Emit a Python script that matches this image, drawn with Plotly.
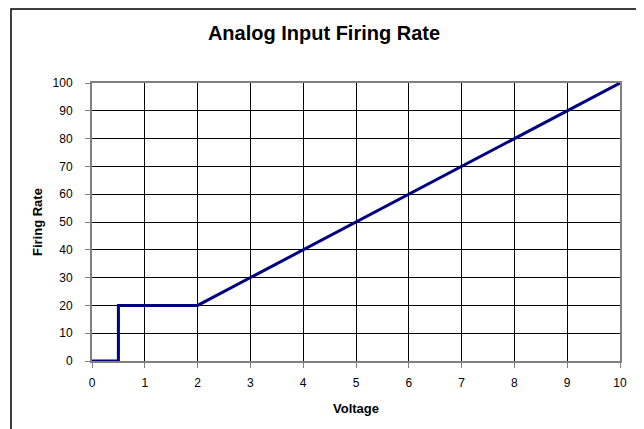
import plotly.graph_objects as go

voltage = [0, 0.5, 0.5, 2, 10]
firing_rate = [0, 0, 20, 20, 100]
x_ticks = list(range(0, 11))
y_ticks = list(range(0, 101, 10))

FONT = "Liberation Sans, Arial, sans-serif"
W, H = 636, 421          # page body has an 8px margin
L, R, T, B = 84, 24, 75, 68
PW, PH = W - L - R, H - T - B

fig = go.Figure()
fig.add_trace(go.Scatter(x=voltage, y=firing_rate, mode="lines",
                         line=dict(color="#000080", width=3), showlegend=False,
                         cliponaxis=False))

fig.update_layout(
    width=W, height=H,
    margin=dict(l=L, r=R, t=T, b=B),
    paper_bgcolor="white", plot_bgcolor="white",
    font=dict(family=FONT, color="black", size=12),
    title=dict(text="<b>Analog Input Firing Rate</b>", x=316 / W, xanchor="center",
               y=1 - 25 / H, yanchor="middle",
               font=dict(family=FONT, size=20, color="black")),
    shapes=[dict(type="rect", xref="paper", yref="paper",
                 x0=(3 - L) / PW, x1=(630 - L) / PW, y0=-(B + 10) / PH, y1=1 + (T - 1) / PH,
                 line=dict(color="black", width=1.5), layer="below")],
    annotations=[
        dict(text="<b>Voltage</b>", xref="paper", yref="paper", x=0.5, y=-47 / PH,
             xanchor="center", yanchor="middle", showarrow=False,
             font=dict(family=FONT, size=13, color="black")),
        dict(text="<b>Firing Rate</b>", xref="paper", yref="paper", x=-(L - 29) / PW, y=0.5,
             xanchor="center", yanchor="middle", showarrow=False, textangle=-90,
             font=dict(family=FONT, size=13, color="black")),
    ],
)
fig.update_xaxes(range=[0, 10], tickvals=x_ticks, ticktext=[str(v) for v in x_ticks],
                 showgrid=True, gridcolor="black", gridwidth=1,
                 showline=True, linecolor="#808080", linewidth=2, mirror=True,
                 ticks="outside", ticklen=5, tickcolor="#808080", tickwidth=1,
                 zeroline=False, ticklabelstandoff=5,
                 tickfont=dict(size=12, family=FONT))
fig.update_yaxes(range=[0, 100], tickvals=y_ticks, ticktext=[str(v) for v in y_ticks],
                 showgrid=True, gridcolor="black", gridwidth=1,
                 showline=True, linecolor="#808080", linewidth=2, mirror=True,
                 ticks="outside", ticklen=5, tickcolor="#808080", tickwidth=1,
                 zeroline=False, ticklabelstandoff=10,
                 tickfont=dict(size=12, family=FONT))

fig.write_html("out.html")
